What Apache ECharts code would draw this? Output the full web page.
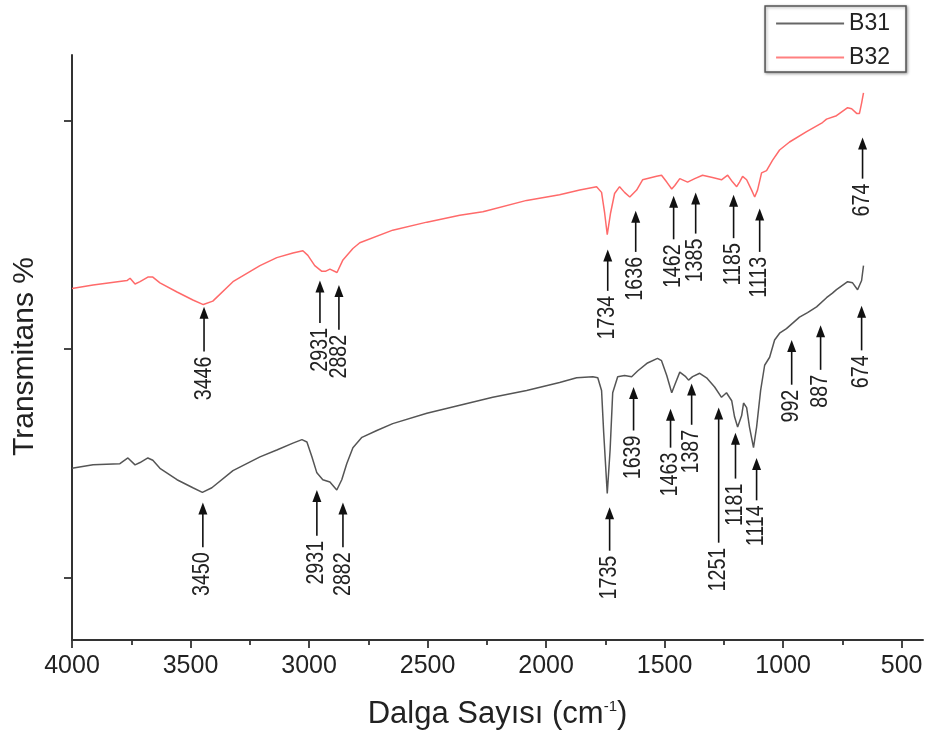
<!DOCTYPE html>
<html>
<head>
<meta charset="utf-8">
<script src="https://cdn.jsdelivr.net/npm/echarts@6/dist/echarts.min.js"></script>
<style>
html,body{margin:0;padding:0;background:#fff;}
#chart{width:930px;height:742px;}
</style>
</head>
<body>
<div id="chart"></div>
<script>
// ---- Data (wavenumber cm-1, transmittance arbitrary units) ----
const b32Wn = [4000,3911,3768,3755,3734,3713,3680,3659,3629,3557,3490,3446,3406,3321,3207,3136,3068,3026,3005,2976,2946,2931,2912,2882,2857,2815,2786,2647,2503,2364,2267,2250,2082,1943,1858,1787,1766,1753,1742,1728,1711,1690,1669,1647,1618,1593,1534,1513,1491,1470,1457,1436,1403,1373,1340,1298,1260,1234,1213,1196,1184,1171,1154,1133,1120,1108,1091,1070,1045,1015,973,901,834,817,775,728,711,690,678,669,661];
const b32T  = [45.3,45.6,46.0,46.2,45.7,45.9,46.3,46.3,45.8,45.0,44.3,43.9,44.2,45.9,47.3,48.0,48.4,48.6,48.2,47.3,46.8,46.8,47.0,46.7,47.8,48.8,49.3,50.4,51.1,51.7,52.0,52.1,53.0,53.5,53.9,54.2,53.7,51.9,50.0,51.9,53.6,54.2,53.7,53.3,53.9,54.8,55.1,55.2,54.6,54.0,54.3,54.9,54.6,54.9,55.2,55.0,54.8,55.2,54.6,54.2,54.6,55.1,54.8,53.9,53.3,53.9,55.4,55.6,56.5,57.4,58.1,59.0,59.8,60.1,60.4,61.1,61.0,60.6,60.6,61.5,62.4];

const b31Wn = [4000,3911,3798,3764,3734,3713,3680,3659,3629,3557,3490,3450,3410,3321,3207,3136,3068,3030,3009,2988,2967,2942,2912,2883,2862,2841,2815,2777,2714,2647,2503,2364,2225,2082,1943,1871,1803,1782,1766,1757,1742,1730,1719,1698,1669,1639,1614,1572,1530,1513,1491,1470,1457,1436,1411,1399,1382,1352,1323,1289,1260,1239,1217,1205,1192,1175,1167,1154,1142,1125,1112,1095,1078,1057,1036,1015,986,931,897,859,817,792,775,728,707,686,669,661];
const b31T  = [29.6,29.9,30.0,30.5,29.9,30.1,30.5,30.3,29.6,28.6,27.9,27.5,27.9,29.4,30.6,31.2,31.8,32.1,31.9,30.6,29.2,28.6,28.4,27.7,28.6,30.0,31.4,32.3,32.9,33.5,34.4,35.1,35.8,36.4,37.1,37.5,37.6,37.5,36.4,32.7,27.4,31.2,36.2,37.6,37.7,37.6,38.1,38.8,39.2,39.0,37.7,36.2,36.9,38.0,37.6,37.3,37.6,37.9,37.5,36.7,35.8,36.2,35.5,34.1,33.2,34.2,35.3,34.9,33.2,31.4,33.2,36.4,38.6,39.3,40.8,41.4,41.8,42.8,43.2,43.7,44.5,44.9,45.2,45.9,45.8,45.2,46.0,47.3];

// Peak annotations: label, arrow position (wavenumber), arrow head / tail (transmittance)
const annLabels = ['3446','2931','2882','1734','1636','1462','1385','1185','1113','674',
                   '3450','2931','2882','1735','1639','1463','1387','1251','1181','1114','992','887','674'];
const annX      = [3443,2954,2874,1740,1622,1462,1369,1209,1099,665,
                   3448,2967,2857,1732,1631,1475,1386,1272,1201,1112,964,842,669];
const annHead   = [43.7,46.0,45.6,48.7,52.1,53.4,53.7,53.5,52.3,58.5,
                   26.6,27.7,26.6,26.2,36.7,34.8,37.0,34.9,32.7,30.5,40.8,42.1,43.8];
const annTail   = [39.8,42.3,41.7,45.1,48.5,49.6,50.1,49.7,48.5,54.9,
                   22.7,23.7,22.7,22.4,32.9,31.4,33.4,23.1,28.7,26.8,36.9,38.2,39.9];

const xMajor = [4000,3500,3000,2500,2000,1500,1000,500];
const xMinor = [3750,3250,2750,2250,1750,1250,750];
const yTicks = [20,40,60];

const FONT = 'Liberation Sans, Arial, sans-serif';
const chart = echarts.init(document.getElementById('chart'), null, {renderer:'canvas'});

function annItem(params, api) {
  const x = api.value(0), h = api.value(1), t = api.value(2);
  const pH = api.coord([x, h]);
  const pT = api.coord([x, t]);
  const ah = 12, aw = 4.5;
  return {
    type: 'group',
    children: [
      {type:'line', shape:{x1:pT[0], y1:pT[1], x2:pH[0], y2:pH[1]+ah-1}, style:{stroke:'#111', lineWidth:1.6}},
      {type:'polygon', shape:{points:[[pH[0],pH[1]],[pH[0]-aw,pH[1]+ah],[pH[0]+aw,pH[1]+ah]]}, style:{fill:'#111'}},
      {type:'text', x:pT[0], y:pT[1]+5, rotation:Math.PI/2, scaleX:0.82,
       style:{text:annLabels[params.dataIndex], fontSize:24, fontFamily:FONT, fill:'#222', align:'right', verticalAlign:'middle'}}
    ]
  };
}

const option = {
  animation: false,
  backgroundColor: '#fff',
  grid: {left:72, right:7, top:55, bottom:102},
  legend: {
    data: ['B31','B32'],
    orient: 'vertical',
    right: 24, top: 6,
    padding: [6, 16, 3, 11],
    itemGap: 11,
    icon: 'rect',
    itemWidth: 68, itemHeight: 2.2,
    backgroundColor: '#fff',
    borderColor: '#555', borderWidth: 1.5, borderRadius: 0,
    shadowBlur: 3, shadowColor: 'rgba(0,0,0,0.35)', shadowOffsetX: 1, shadowOffsetY: 1,
    textStyle: {fontSize: 23, fontFamily: FONT, color: '#222', lineHeight: 23}
  },
  xAxis: [{
    type: 'value', min: 410, max: 4000, inverse: true,
    splitLine: {show:false},
    axisLine: {show:true, lineStyle:{color:'#333', width:2}},
    axisTick: {show:true, length:8, lineStyle:{color:'#333', width:1.8}, customValues: xMajor},
    axisLabel: {show:true, fontSize:25, fontFamily:FONT, color:'#222', margin:14, customValues: xMajor,
                formatter: v => String(v)},
    name: 'Dalga Sayısı (cm{sup|-1})',
    nameLocation: 'middle', nameGap: 59,
    nameTextStyle: {fontSize:31, fontFamily:FONT, color:'#222',
      rich: {sup: {fontSize:15, fontFamily:FONT, color:'#222', verticalAlign:'top', padding:[0,0,14,0]}}}
  },{
    type: 'value', min: 410, max: 4000, inverse: true, position: 'bottom',
    splitLine: {show:false},
    axisLine: {show:false},
    axisTick: {show:true, length:5, lineStyle:{color:'#333', width:1.8}, customValues: xMinor},
    axisLabel: {show:false}
  }],
  yAxis: {
    type: 'value', min: 14.6, max: 65.7,
    splitLine: {show:false},
    axisLine: {show:true, lineStyle:{color:'#333', width:2}},
    axisTick: {show:true, length:8, lineStyle:{color:'#333', width:1.8}, customValues: yTicks},
    axisLabel: {show:false},
    name: 'Transmitans %',
    nameLocation: 'middle', nameGap: 32,
    nameTextStyle: {fontSize:30, fontFamily:FONT, color:'#222', padding:[0,18,0,0]}
  },
  series: [
    {name:'B31', type:'line', symbol:'none', xAxisIndex:0,
     lineStyle:{color:'#555555', width:1.5}, itemStyle:{color:'#666666'},
     data: b31Wn.map((w,i)=>[w, b31T[i]])},
    {name:'B32', type:'line', symbol:'none', xAxisIndex:0,
     lineStyle:{color:'#ff6a6a', width:1.5}, itemStyle:{color:'#ff8080'},
     data: b32Wn.map((w,i)=>[w, b32T[i]])},
    {name:'annotations', type:'custom', xAxisIndex:0, silent:true, clip:false,
     renderItem: annItem,
     encode: {x:0, y:[1,2]},
     data: annX.map((x,i)=>[x, annHead[i], annTail[i]])}
  ]
};
chart.setOption(option);
</script>
</body>
</html>
